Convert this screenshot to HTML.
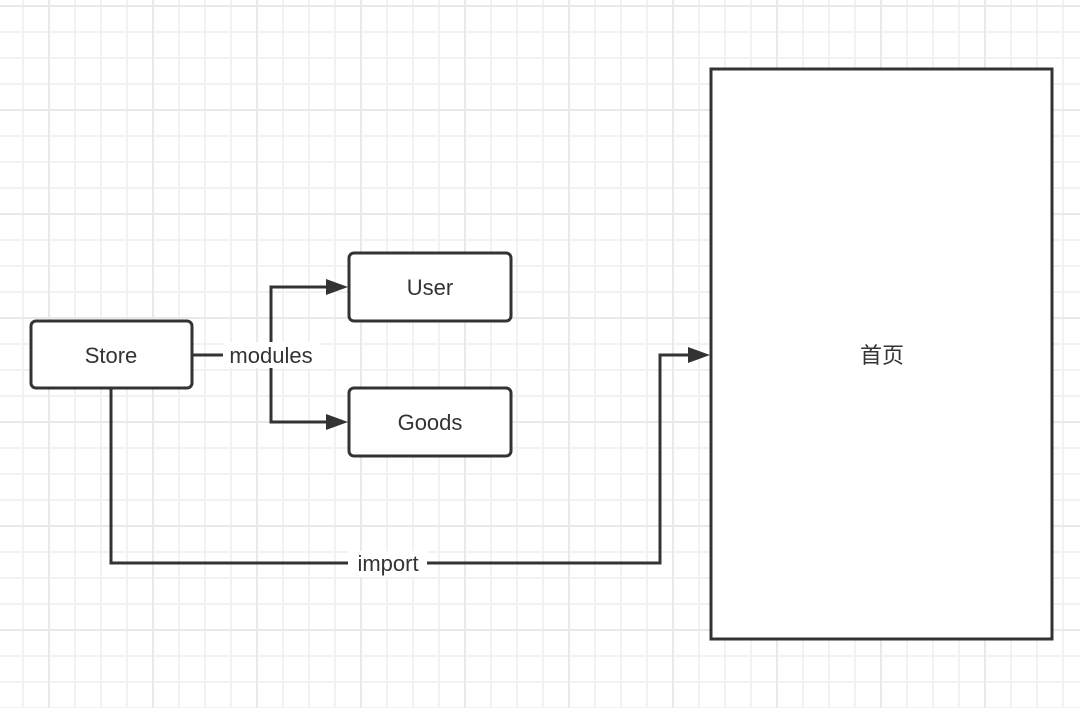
<!DOCTYPE html>
<html><head><meta charset="utf-8"><style>
html,body{margin:0;padding:0;background:#fff;}
body{width:1080px;height:708px;overflow:hidden;}
</style></head><body>
<svg width="1080" height="708" xmlns="http://www.w3.org/2000/svg" font-family="'Liberation Sans','Noto Sans CJK SC',sans-serif">
<defs>
<pattern id="g" x="22" y="5" width="26" height="26" patternUnits="userSpaceOnUse">
<path d="M1 0V26M0 1H26" stroke="#f2f2f2" stroke-width="2" fill="none"/>
</pattern>
<pattern id="G" x="48" y="5" width="104" height="104" patternUnits="userSpaceOnUse">
<path d="M1 0V104M0 1H104" stroke="#e9e9e9" stroke-width="2" fill="none"/>
</pattern>
</defs>
<rect width="1080" height="708" fill="#fff"/>
<rect width="1080" height="708" fill="url(#g)"/>
<rect width="1080" height="708" fill="url(#G)"/>
<g stroke="#333" stroke-width="3" fill="none">
<path d="M192 355H271"/>
<path d="M271 355V287H330"/>
<path d="M271 355V422H330"/>
<path d="M111 388V563H660V355H692"/>
</g>
<g fill="#333">
<path d="M326 279L348 287L326 295Z"/>
<path d="M326 414L348 422L326 430Z"/>
<path d="M688 347L710 355L688 363Z"/>
</g>
<g stroke="#333" stroke-width="3" fill="#fff">
<rect x="31" y="321" width="161" height="67" rx="5"/>
<rect x="349" y="253" width="162" height="68" rx="5"/>
<rect x="349" y="388" width="162" height="68" rx="5"/>
<rect x="711" y="69" width="341" height="570"/>
</g>
<rect x="223" y="342" width="97" height="26" fill="#fff"/>
<rect x="348" y="551" width="79" height="26" fill="#fff"/>
<g fill="#333" font-size="22" text-anchor="middle">
<text x="111" y="363">Store</text>
<text x="430" y="295">User</text>
<text x="430" y="430">Goods</text>
<text x="271" y="363">modules</text>
<text x="388" y="571">import</text>
<text x="882" y="363">首页</text>
</g>
</svg>
</body></html>
